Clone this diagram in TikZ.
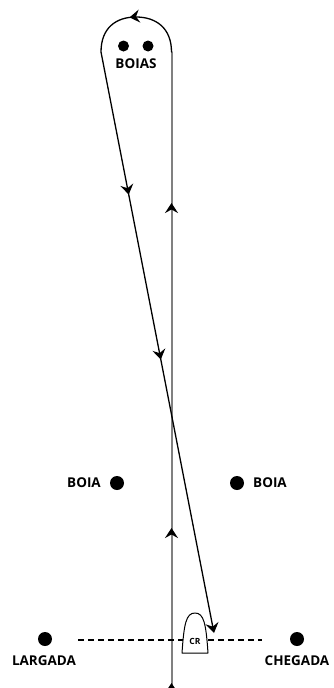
\documentclass[tikz,border=0pt]{standalone}
\usepackage{fontspec}
\setmainfont{Open Sans}
\usetikzlibrary{arrows.meta,decorations.markings}
\begin{document}
\begin{tikzpicture}[x=1pt, y=-1pt, line join=round, line cap=round, >={Stealth[length=10pt,width=13pt,inset=3.5pt]}]
	\tikzset{buoy/.style={circle, fill=black, inner sep=0pt, minimum size=14pt},
		smallbuoy/.style={circle, fill=black, inner sep=0pt, minimum size=11pt},
		lbl/.style={font=\bfseries\fontsize{13.5}{15}\selectfont, inner sep=0pt}}
	\useasboundingbox (0,0) rectangle (333,688);
	\def\xv{171.5}
	\coordinate (start) at (\xv,688);
	\coordinate (turn) at (\xv,52);
	\coordinate (apex) at (136,17);
	\coordinate (back) at (101,52);
	\coordinate (finish) at (214,633);
	\draw[black!50, line width=2pt,
		postaction={decorate}, decoration={markings,
			mark=at position 5pt with {\arrow[black]{>}},
			mark=at position 160pt with {\arrow[black]{>}},
			mark=at position 485pt with {\arrow[black]{>}}}] (start) -- (turn);
	\draw[line width=1.3pt, ->,
		postaction={decorate}, decoration={markings,
			mark=at position 63pt with {\arrow{>}},
			mark=at position 258pt with {\arrow{>}},
			mark=at position 426pt with {\arrow{>}}}]
		(turn) .. controls (\xv,28) and (156,17) .. (apex)
		.. controls (116,17) and (101,28) .. (back) -- (finish);
	\draw[line width=1.8pt, dash pattern=on 5.5pt off 4.5pt, line cap=butt] (78,640) -- (262,640);
	\draw[fill=white, line width=1pt] (182,653) -- (208,653) .. controls (206,624) and (204,613) .. (195,613)
		.. controls (186,613) and (184,624) .. cycle;
	\node[font=\bfseries\fontsize{8.5}{10}\selectfont, inner sep=0pt] (cr) at (195,641) {CR};
	\node[smallbuoy] (boiasA) at (123.5,46) {};
	\node[smallbuoy] (boiasB) at (148,46) {};
	\node[lbl] (boias) at (136,64) {BOIAS};
	\node[buoy] (boiaL) at (117,483) {};
	\node[lbl, anchor=east] at (101,483) {BOIA};
	\node[buoy] (boiaR) at (237,483) {};
	\node[lbl, anchor=west] at (253,483) {BOIA};
	\node[buoy] (largada) at (45,639) {};
	\node[lbl] at (44,661) {LARGADA};
	\node[buoy] (chegada) at (297,639) {};
	\node[lbl] at (297,661) {CHEGADA};
\end{tikzpicture}
\end{document}
